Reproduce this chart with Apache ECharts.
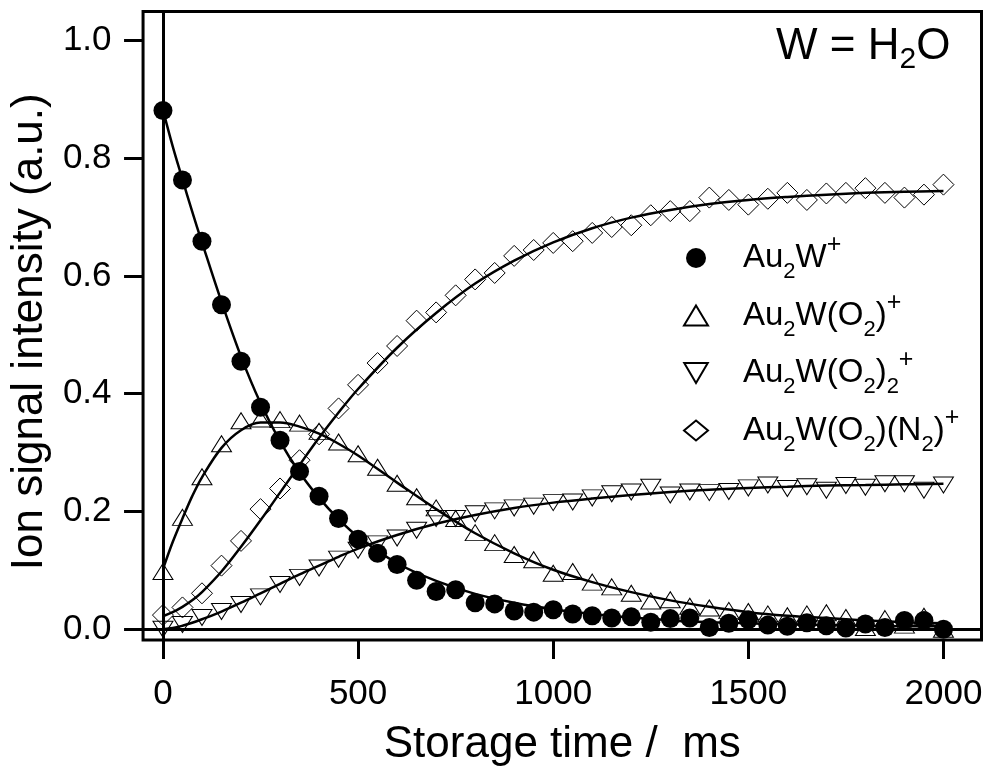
<!DOCTYPE html>
<html><head><meta charset="utf-8">
<script src="https://cdn.jsdelivr.net/npm/echarts@6/dist/echarts.min.js"></script>
<style>html,body{margin:0;padding:0;background:#fff}#c{width:987px;height:772px}</style>
</head><body><div id="c"></div>
<script>
// ---------- data ----------
const time = [0,50,100,150,200,250,300,350,400,450,500,550,600,650,700,750,800,850,900,950,1000,
  1050,1100,1150,1200,1250,1300,1350,1400,1450,1500,1550,1600,1650,1700,1750,1800,1850,1900,1950,2000];
const au2w = [0.881,0.763,0.659,0.551,0.455,0.377,0.321,0.268,0.226,0.188,0.153,0.129,0.110,0.083,0.064,0.067,0.045,0.043,0.031,0.029,0.033,
  0.026,0.023,0.019,0.021,0.012,0.018,0.019,0.003,0.010,0.016,0.007,0.005,0.011,0.006,0.002,0.009,0.003,0.015,0.015,0.000];
const au2wO2 = [0.098,0.190,0.259,0.315,0.354,0.357,0.356,0.350,0.336,0.318,0.298,0.275,0.248,0.225,0.206,0.188,0.164,0.147,0.127,0.118,0.095,
  0.098,0.080,0.072,0.061,0.048,0.050,0.039,0.036,0.032,0.030,0.026,0.023,0.026,0.028,0.020,0.003,0.018,0.007,0.022,0.000];
const au2wO2x2 = [0.000,0.008,0.020,0.030,0.042,0.055,0.076,0.088,0.104,0.119,0.134,0.145,0.155,0.168,0.188,0.188,0.196,0.201,0.206,0.209,0.215,
  0.216,0.223,0.230,0.233,0.241,0.228,0.233,0.232,0.234,0.240,0.245,0.239,0.242,0.236,0.244,0.241,0.247,0.247,0.236,0.245];
const au2wO2N2 = [0.024,0.037,0.061,0.108,0.150,0.204,0.239,0.287,0.331,0.375,0.415,0.452,0.481,0.524,0.538,0.567,0.594,0.605,0.634,0.644,0.656,
  0.659,0.673,0.683,0.686,0.703,0.710,0.710,0.733,0.729,0.721,0.731,0.741,0.729,0.740,0.741,0.749,0.741,0.733,0.738,0.755];

// fitted curves
const fitTime = [0,25,50,75,100,150,200,250,300,350,400,450,500,600,700,800,900,1000,1100,1200,1300,1400,1500,1600,1700,1800,1900,2000];
const fitAu2w = [0.882,0.820,0.764,0.709,0.657,0.556,0.463,0.384,0.319,0.266,0.223,0.187,0.157,0.112,0.082,0.060,0.045,0.034,0.026,0.020,0.015,0.012,0.010,0.008,0.007,0.006,0.005,0.005];
const fitAu2wO2 = [0.102,0.148,0.188,0.226,0.258,0.308,0.338,0.351,0.351,0.344,0.332,0.315,0.295,0.249,0.204,0.163,0.129,0.101,0.080,0.063,0.049,0.038,0.029,0.023,0.019,0.015,0.012,0.010];
const fitAu2wO2x2 = [0.000,0.002,0.006,0.011,0.017,0.030,0.045,0.061,0.077,0.093,0.108,0.123,0.137,0.160,0.179,0.194,0.206,0.215,0.222,0.228,0.233,0.237,0.240,0.242,0.244,0.245,0.246,0.247];
const fitAu2wO2N2 = [0.022,0.029,0.038,0.049,0.063,0.098,0.140,0.185,0.232,0.279,0.325,0.368,0.408,0.478,0.537,0.587,0.626,0.657,0.681,0.699,0.712,0.722,0.729,0.734,0.738,0.741,0.743,0.744];

const xTicks = [0,500,1000,1500,2000];
const yTicks = [0,0.2,0.4,0.6,0.8,1.0];
const seriesNames = ['Au2W+','Au2W(O2)+','Au2W(O2)2+','Au2W(O2)(N2)+'];
const legendLabels = {
  'Au2W+': '{n|Au}{s|2}{n|W}{p|+}',
  'Au2W(O2)+': '{n|Au}{s|2}{n|W(O}{s|2}{n|)}{p|+}',
  'Au2W(O2)2+': '{n|Au}{s|2}{n|W(O}{s|2}{n|)}{s|2}{p|+}',
  'Au2W(O2)(N2)+': '{n|Au}{s|2}{n|W(O}{s|2}{n|)(N}{s|2}{n|)}{p|+}'
};

// ---------- chart ----------
const FONT = '"Liberation Sans", Arial, Helvetica, sans-serif';
const pairs = (xs, ys) => xs.map((x, i) => [x, ys[i]]);
const openStyle = {color: 'rgba(0,0,0,0)', borderColor: '#000', borderWidth: 1, opacity: 1};

function scatter(name, ys, symbol, size, style) {
  return {name, type: 'scatter', data: pairs(time, ys), symbol, symbolSize: size,
    itemStyle: style, z: 3, silent: true};
}
function fit(ys) {
  return {type: 'line', data: pairs(fitTime, ys), showSymbol: false, smooth: 0.35,
    lineStyle: {color: '#000', width: 2.5}, z: 2, silent: true};
}

const chart = echarts.init(document.getElementById('c'), null, {renderer: 'canvas'});
chart.setOption({
  animation: false,
  backgroundColor: '#fff',
  textStyle: {fontFamily: FONT, color: '#000'},
  title: {
    text: '{n|W = H}{s|2}{n|O}', left: 776, top: 19, padding: 0,
    textStyle: {fontWeight: 'normal', rich: {
      n: {fontSize: 44, lineHeight: 56, fontFamily: FONT, fontWeight: 'normal', color: '#000', verticalAlign: 'middle'},
      s: {fontSize: 30, lineHeight: 30, fontFamily: FONT, fontWeight: 'normal', color: '#000', verticalAlign: 'bottom'}
    }}
  },
  grid: {left: 140.5, right: 5.5, top: 11.5, bottom: 129.5, show: true,
    borderColor: '#000', borderWidth: 3, backgroundColor: 'rgba(0,0,0,0)'},
  legend: {
    orient: 'vertical', left: 683, top: 233, itemWidth: 24, itemHeight: 20, itemGap: 7.5,
    selectedMode: false, data: seriesNames, padding: 0,
    formatter: name => legendLabels[name],
    textStyle: {padding: [0, 0, 0, 30], rich: {
      n: {fontSize: 33, lineHeight: 50, fontFamily: FONT, color: '#000', verticalAlign: 'middle'},
      s: {fontSize: 22, lineHeight: 26, fontFamily: FONT, color: '#000', verticalAlign: 'bottom'},
      p: {fontSize: 25, lineHeight: 22, fontFamily: FONT, color: '#000', verticalAlign: 'top'}
    }}
  },
  xAxis: {
    type: 'value', min: -51, max: 2097.5, position: 'bottom',
    axisLine: {show: false, onZero: false},
    axisTick: {show: true, inside: false, length: 19, customValues: xTicks, lineStyle: {color: '#000', width: 3}},
    axisLabel: {customValues: xTicks, margin: 37, fontSize: 35, color: '#000', fontFamily: FONT,
      formatter: v => String(v)},
    splitLine: {show: false},
    name: 'Storage time /  ms', nameLocation: 'middle', nameGap: 83,
    nameTextStyle: {fontSize: 44, color: '#000', fontFamily: FONT}
  },
  yAxis: {
    type: 'value', min: -0.0183, max: 1.049, position: 'left',
    axisLine: {show: false, onZero: false},
    axisTick: {show: true, inside: false, length: 19, customValues: yTicks, lineStyle: {color: '#000', width: 3}},
    axisLabel: {customValues: yTicks, margin: 31.5, fontSize: 35, color: '#000', fontFamily: FONT,
      formatter: v => v.toFixed(1)},
    splitLine: {show: false},
    name: 'Ion signal intensity (a.u.)', nameLocation: 'middle', nameGap: 89,
    nameTextStyle: {fontSize: 44, color: '#000', fontFamily: FONT, padding: [0, 12, 0, 0]}
  },
  series: [
    Object.assign(fit(fitAu2w), {
      markLine: {silent: true, symbol: 'none', label: {show: false},
        lineStyle: {color: '#000', width: 3, type: 'solid'},
        data: [{xAxis: 0}, {yAxis: 0}]}
    }),
    fit(fitAu2wO2),
    fit(fitAu2wO2x2),
    fit(fitAu2wO2N2),
    scatter(seriesNames[0], au2w, 'circle', 19, {color: '#000', borderWidth: 0, opacity: 1}),
    scatter(seriesNames[1], au2wO2, 'triangle', [20, 16], openStyle),
    scatter(seriesNames[2], au2wO2x2, 'path://M0,0L20,0L10,17Z', [20, 16], openStyle),
    scatter(seriesNames[3], au2wO2N2, 'diamond', [21, 21], openStyle)
  ]
});
</script>
</body></html>
